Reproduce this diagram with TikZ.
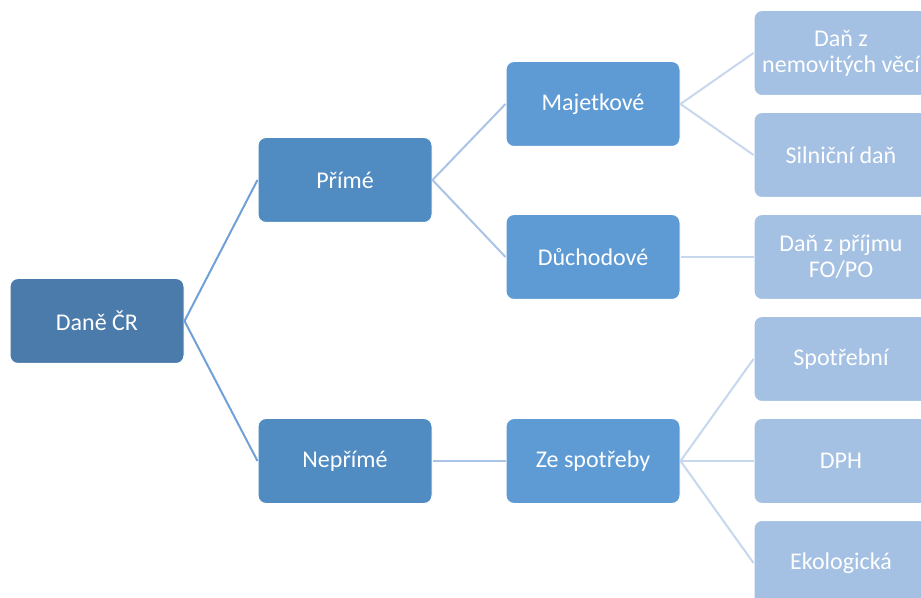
\documentclass[tikz,border=0pt]{standalone}
\usepackage{fontspec}
\setmainfont{Carlito}
\definecolor{rootblue}{HTML}{4A7BAB}
\definecolor{midblue}{HTML}{508BC1}
\definecolor{lowblue}{HTML}{5E9BD5}
\definecolor{leafblue}{HTML}{A4C0E3}
\definecolor{lineA}{HTML}{6FA0D8}
\definecolor{lineB}{HTML}{A9C4E6}
\definecolor{lineC}{HTML}{C6D7EE}
\begin{document}
\begin{tikzpicture}[x=0.5pt,y=-0.5pt,
	box/.style={draw=white, line width=0.5pt, rounded corners=4pt, text=white, align=center,
		minimum width=87pt, minimum height=42.5pt, inner sep=0pt, font=\fontsize{12}{13}\selectfont},
	link/.style={line width=1pt}]
			\useasboundingbox (0,0) rectangle (921,598);
			\node[box, fill=rootblue] (A) at (97,321) {Daně ČR};
			\node[box, fill=midblue] (B1) at (345,180) {Přímé};
			\node[box, fill=midblue] (B2) at (345,461) {Nepřímé};
			\node[box, fill=lowblue] (C1) at (593,104) {Majetkové};
			\node[box, fill=lowblue] (C2) at (593,257) {Důchodové};
			\node[box, fill=lowblue] (C3) at (593,461) {Ze spotřeby};
			\node[box, fill=leafblue] (D1) at (841,53) {Daň z\\nemovitých věcí};
			\node[box, fill=leafblue] (D2) at (841,155) {Silniční daň};
			\node[box, fill=leafblue] (D3) at (841,257) {Daň z příjmu\\FO/PO};
			\node[box, fill=leafblue] (D4) at (841,359) {Spotřební};
			\node[box, fill=leafblue] (D5) at (841,461) {DPH};
			\node[box, fill=leafblue] (D6) at (841,563) {Ekologická};
			\draw[link, lineA] (A.east) -- (B1.west);
			\draw[link, lineA] (A.east) -- (B2.west);
			\draw[link, lineB] (B1.east) -- (C1.west);
			\draw[link, lineB] (B1.east) -- (C2.west);
			\draw[link, lineB] (B2.east) -- (C3.west);
			\draw[link, lineC] (C1.east) -- (D1.west);
			\draw[link, lineC] (C1.east) -- (D2.west);
			\draw[link, lineC] (C2.east) -- (D3.west);
			\draw[link, lineC] (C3.east) -- (D4.west);
			\draw[link, lineC] (C3.east) -- (D5.west);
			\draw[link, lineC] (C3.east) -- (D6.west);
		\end{tikzpicture}
\end{document}
